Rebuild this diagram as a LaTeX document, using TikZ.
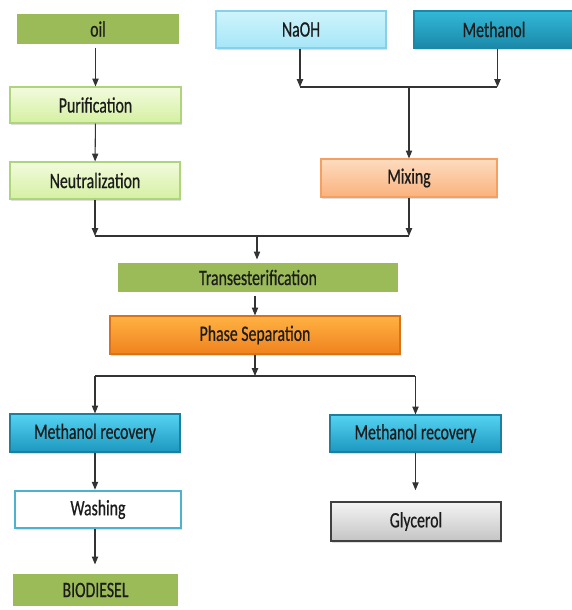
\documentclass[tikz,border=0pt]{standalone}
\usepackage{fontspec}
\setmainfont{Carlito}[FakeStretch=0.72,FakeBold=0.6]
\usepackage{tikz}
\usetikzlibrary{arrows.meta,shadows}
\tikzset{every picture/.style={line width=0.6pt}}
\definecolor{oilgreen}{HTML}{9BBB59}
\definecolor{limetop}{HTML}{F2FBDD}
\definecolor{limebot}{HTML}{D5F0A2}
\definecolor{limeline}{HTML}{AFD57C}
\definecolor{skytop}{HTML}{CFF4FC}
\definecolor{skybot}{HTML}{A6E6F8}
\definecolor{skyline}{HTML}{86D0EA}
\definecolor{tealtop}{HTML}{33B8D8}
\definecolor{tealbot}{HTML}{1B88A8}
\definecolor{peachtop}{HTML}{FDDCC0}
\definecolor{peachbot}{HTML}{FAB27C}
\definecolor{peachline}{HTML}{F5A060}
\definecolor{orangetop}{HTML}{FFB243}
\definecolor{orangebot}{HTML}{F0821E}
\definecolor{orangeline}{HTML}{D8731A}
\definecolor{bluetop}{HTML}{55D3F2}
\definecolor{bluebot}{HTML}{1C97BF}
\definecolor{blueline}{HTML}{1B7FA0}
\definecolor{washline}{HTML}{4BB3CE}
\definecolor{greytop}{HTML}{F4F4F4}
\definecolor{greybot}{HTML}{C4C4C4}
\definecolor{textdark}{HTML}{1C1C1C}
\definecolor{wire}{HTML}{333333}
\tikzset{
  box/.style={rectangle, inner sep=0pt, text=textdark,
    font=\fontsize{12.5}{14}\selectfont,
    drop shadow={shadow xshift=0.6pt, shadow yshift=-0.9pt, opacity=0.25}},
  greenbox/.style={box, fill=oilgreen, draw=white, line width=1.8pt},
  limebox/.style={box, top color=limetop, bottom color=limebot, draw=limeline},
  skybox/.style={box, top color=skytop, bottom color=skybot, draw=skyline},
  tealbox/.style={box, top color=tealtop, bottom color=tealbot, draw=tealbot},
  peachbox/.style={box, top color=peachtop, bottom color=peachbot, draw=peachline},
  orangebox/.style={box, top color=orangetop, bottom color=orangebot, draw=orangeline},
  bluebox/.style={box, top color=bluetop, bottom color=bluebot, draw=blueline},
  washbox/.style={box, fill=white, draw=washline, line width=1.5pt},
  greybox/.style={box, top color=greytop, bottom color=greybot, draw=black!75, line width=0.9pt},
  arr/.style={draw=wire, -{Triangle[length=4.5pt,width=3.6pt]}},
  wire/.style={draw=wire}
}
\begin{document}
\begin{tikzpicture}[x=0.02cm, y=-0.02cm]
\useasboundingbox (0,0) rectangle (572,610);

\node[greenbox, minimum width=166*0.02cm, minimum height=34*0.02cm] (oil) at (98,29) {oil};
\node[skybox, minimum width=170*0.02cm, minimum height=37*0.02cm] (naoh) at (301,29.5) {NaOH};
\node[tealbox, minimum width=160*0.02cm, minimum height=37*0.02cm] (meth) at (494,29.5) {Methanol};
\node[limebox, minimum width=171*0.02cm, minimum height=36*0.02cm] (pur) at (95.5,105) {Purification};
\node[limebox, minimum width=170*0.02cm, minimum height=37*0.02cm] (neu) at (95,180.5) {Neutralization};
\node[peachbox, minimum width=176*0.02cm, minimum height=38*0.02cm] (mix) at (409,178) {Mixing};
\node[greenbox, minimum width=284*0.02cm, minimum height=33*0.02cm] (trans) at (258,277.5) {Transesterification};
\node[orangebox, minimum width=290*0.02cm, minimum height=38*0.02cm] (phase) at (255,335) {Phase Separation};
\node[bluebox, minimum width=170*0.02cm, minimum height=38*0.02cm] (recl) at (95,433) {Methanol recovery};
\node[bluebox, minimum width=171*0.02cm, minimum height=37*0.02cm] (recr) at (415.5,433.5) {Methanol recovery};
\node[washbox, minimum width=166*0.02cm, minimum height=37*0.02cm] (wash) at (98,509.5) {Washing};
\node[greybox, minimum width=170*0.02cm, minimum height=39*0.02cm] (gly) at (416,521.5) {Glycerol};
\node[greenbox, minimum width=169*0.02cm, minimum height=36*0.02cm] (bio) at (95.5,590) {BIODIESEL};

% junctions
\coordinate (j1) at (mix.north |- 0,87);
\coordinate (j2) at (257,236);
\coordinate (j3) at (phase.south |- 0,376);

\draw[arr] (pur.north |- oil.south) -- (pur.north);
\draw[arr] (pur) -- (neu);

\draw[arr] (naoh.south -| 300,0) -- (300,87);
\draw[arr] (meth.south -| 497.5,0) -- (497.5,87);
\draw[wire] (300,87) -- (497.5,87);
\draw[arr] (j1) -- (mix.north);

\draw[arr] (neu.south) -- (neu.south |- j2);
\draw[arr] (mix.south) -- (mix.south |- j2);
\draw[wire] (neu.south |- j2) -- (mix.south |- j2);
\draw[arr] (j2) -- (j2 |- trans.north);

\draw[arr] (trans.south -| phase.south) -- (phase.north);
\draw[arr] (phase.south) -- (j3);
\draw[wire] (recl.north |- j3) -- (recr.north |- j3);
\draw[arr] (recl.north |- j3) -- (recl.north);
\draw[arr] (recr.north |- j3) -- (recr.north);

\draw[arr] (recl.south) -- (recl.south |- wash.north);
\draw[arr, shorten >=6*0.02cm] (recl.south |- wash.south) -- (recl.south |- bio.north);
\draw[arr, shorten >=11*0.02cm] (recr.south) -- (recr.south |- gly.north);
\end{tikzpicture}
\end{document}
